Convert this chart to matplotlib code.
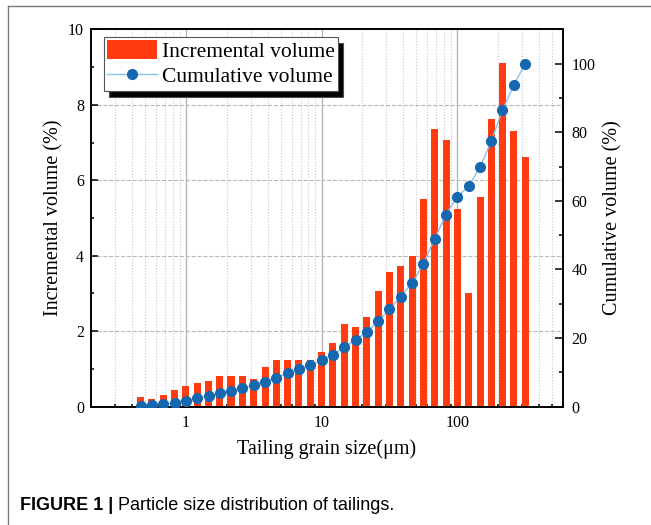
import matplotlib.pyplot as plt
from matplotlib.lines import Line2D
from matplotlib.patches import Patch
from matplotlib.ticker import FixedLocator, LogLocator, MultipleLocator, NullFormatter

# grain size classes (um), log-spaced
grain_size = [
    0.464, 0.562, 0.681, 0.825, 1.0, 1.21, 1.47, 1.78, 2.15, 2.61,
    3.16, 3.83, 4.64, 5.62, 6.81, 8.25, 10.0, 12.1, 14.7, 17.8,
    21.5, 26.1, 31.6, 38.3, 46.4, 56.2, 68.1, 82.5, 100.0, 121.0,
    147.0, 178.0, 215.0, 261.0, 316.0,
]
# incremental volume (%)
incremental = [
    0.25, 0.20, 0.32, 0.44, 0.56, 0.62, 0.69, 0.81, 0.81, 0.81,
    0.73, 1.05, 1.24, 1.24, 1.24, 1.24, 1.44, 1.69, 2.20, 2.12,
    2.38, 3.07, 3.56, 3.74, 4.00, 5.50, 7.37, 7.06, 5.24, 3.00,
    5.56, 7.63, 9.12, 7.31, 6.62,
]
# cumulative volume (%)
cumulative = [
    0.3, 0.5, 0.8, 1.2, 1.8, 2.4, 3.1, 3.9, 4.7, 5.5,
    6.2, 7.3, 8.5, 9.7, 10.9, 12.1, 13.5, 15.2, 17.4, 19.5,
    21.8, 24.9, 28.4, 32.1, 36.1, 41.6, 49.0, 56.0, 61.2, 64.2,
    69.8, 77.4, 86.5, 93.8, 100.0,
]

BAR_COLOR = "#ff3b0f"
DOT_COLOR = "#1567b0"
LINE_COLOR = "#86c3ea"
SERIF = ["Liberation Serif", "DejaVu Serif"]

plt.rcParams["font.family"] = SERIF

fig = plt.figure(figsize=(6.51, 5.25), dpi=100)
ax = fig.add_axes([0.1398, 0.2253, 0.725, 0.7189])
ax2 = ax.twinx()

# bars with constant width on the log axis
half = 10 ** 0.0259
lefts = [g / half for g in grain_size]
widths = [g * half - g / half for g in grain_size]
ax.bar(lefts, incremental, width=widths, align="edge", color=BAR_COLOR,
       edgecolor="none", zorder=2)

ax2.plot(grain_size, cumulative, color=LINE_COLOR, lw=1.0, marker="o",
         markersize=7, markerfacecolor=DOT_COLOR, markeredgecolor=DOT_COLOR,
         zorder=3)

ax.set_xscale("log")
ax.set_xlim(0.2, 600)
ax.set_ylim(0, 10)
ax2.set_ylim(0, 110)

ax.xaxis.set_major_locator(FixedLocator([1, 10, 100]))
ax.set_xticklabels(["1", "10", "100"])
ax.xaxis.set_minor_locator(LogLocator(base=10, subs=range(2, 10)))
ax.xaxis.set_minor_formatter(NullFormatter())
ax.yaxis.set_major_locator(MultipleLocator(2))
ax.yaxis.set_minor_locator(MultipleLocator(1))
ax2.yaxis.set_major_locator(FixedLocator([0, 20, 40, 60, 80, 100]))
ax2.yaxis.set_minor_locator(MultipleLocator(10))

ax.set_axisbelow(True)
ax.grid(True, which="major", axis="y", ls="--", color="#b8b8b8", lw=0.8)
ax.grid(True, which="major", axis="x", ls="-", color="#b0b0b0", lw=0.9)
ax.grid(True, which="minor", axis="x", ls=":", color="#c8c8c8", lw=0.8)

for a in (ax, ax2):
    for s in a.spines.values():
        s.set_linewidth(1.2)
ax.tick_params(which="both", direction="in", width=1.1, labelsize=11.5,
               top=False, right=False)
ax.tick_params(which="major", length=5)
ax.tick_params(which="minor", length=2.5)
ax.tick_params(axis="x", pad=6)
ax.tick_params(axis="y", pad=5)
ax2.tick_params(which="both", direction="in", width=1.1, labelsize=11.5, pad=6)
ax2.tick_params(which="major", length=5.5)
ax2.tick_params(which="minor", length=3)

ax.set_xlabel("Tailing grain size(\u03bcm)", fontsize=14.5, labelpad=6)
ax.set_ylabel("Incremental volume (%)", fontsize=14.5, labelpad=3)
ax2.set_ylabel("Cumulative volume (%)", fontsize=14.5, labelpad=6)

handles = [
    Patch(facecolor=BAR_COLOR, edgecolor="none"),
    Line2D([], [], color=LINE_COLOR, lw=1.0, marker="o", markersize=7,
           markerfacecolor=DOT_COLOR, markeredgecolor=DOT_COLOR),
]
leg = ax2.legend(handles, ["Incremental volume", "Cumulative volume"],
                 loc="upper left", bbox_to_anchor=(0.0275, 0.98),
                 borderaxespad=0, fontsize=15.5, fancybox=False,
                 framealpha=1, edgecolor="#555555", borderpad=0.15,
                 handlelength=2.3, handleheight=1.0, handletextpad=0.25,
                 labelspacing=0.15,
                 shadow={"facecolor": "black", "alpha": 1, "ox": 3.8, "oy": -4.5})
leg.get_frame().set_linewidth(0.8)

# outer figure frame (top and left edges only) and caption
fig.add_artist(Line2D([8 / 651, 1], [1 - 6 / 525, 1 - 6 / 525],
                      color="#7a7a7a", lw=1.0))
fig.add_artist(Line2D([8 / 651, 8 / 651], [0, 1 - 6 / 525],
                      color="#7a7a7a", lw=1.0))
cap = ["Liberation Sans", "DejaVu Sans"]
t1 = fig.text(20 / 651, 1 - 506 / 525, "FIGURE 1 | ", fontsize=13,
              fontweight="bold", family=cap, va="center", ha="left")
fig.canvas.draw()
bb = t1.get_window_extent()
fig.text(bb.x1 / fig.bbox.width, 1 - 506 / 525,
         "Particle size distribution of tailings.", fontsize=13,
         family=cap, va="center", ha="left")

fig.savefig("out.png", dpi=100)
